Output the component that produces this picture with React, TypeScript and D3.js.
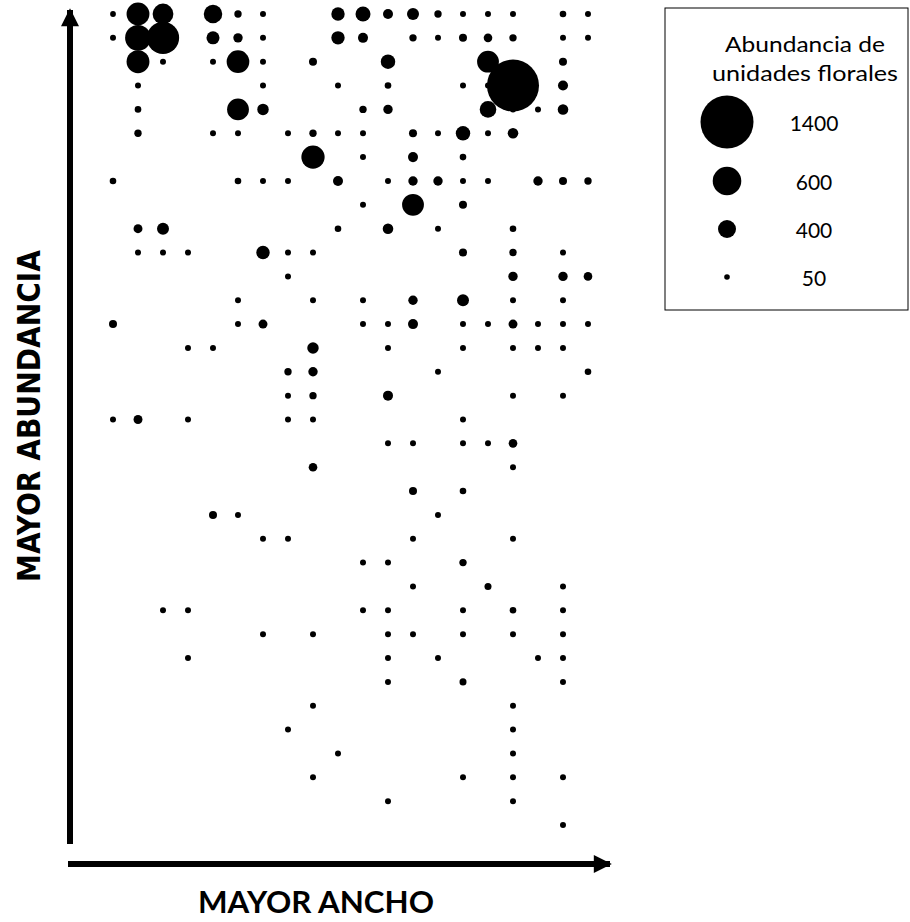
import React from "react";
import * as d3 from "d3";

// Grid data: [ancho column index, abundancia row index (0 = most abundant), floral units]
const points: [number, number, number][] = [
  // row 0
  [0, 0, 55], [1, 0, 492], [2, 0, 452], [4, 0, 410], [5, 0, 100], [6, 0, 61], [9, 0, 270], [10, 0, 315],
  [11, 0, 175], [12, 0, 230], [13, 0, 100], [14, 0, 61], [15, 0, 61], [16, 0, 61], [18, 0, 78], [19, 0, 61],
  // row 1
  [0, 1, 61], [1, 1, 548], [2, 1, 720], [4, 1, 260], [5, 1, 157], [6, 1, 61], [9, 1, 270], [10, 1, 175],
  [12, 1, 100], [13, 1, 61], [14, 1, 118], [15, 1, 135], [16, 1, 100], [18, 1, 61], [19, 1, 61],
  // row 2
  [1, 2, 492], [2, 2, 61], [4, 2, 61], [5, 2, 488], [6, 2, 61], [8, 2, 118], [11, 2, 300], [15, 2, 472], [18, 2, 118],
  // row 3
  [1, 3, 61], [6, 3, 61], [9, 3, 61], [11, 3, 78], [14, 3, 61], [15, 3, 61], [16, 3, 1367], [18, 3, 175],
  // row 4
  [1, 4, 78], [5, 4, 472], [6, 4, 215], [10, 4, 100], [11, 4, 157], [15, 4, 360], [16, 4, 61], [17, 4, 61], [18, 4, 190],
  // row 5
  [1, 5, 100], [4, 5, 61], [5, 5, 61], [7, 5, 61], [8, 5, 100], [9, 5, 61], [10, 5, 61], [12, 5, 118],
  [13, 5, 61], [14, 5, 300], [15, 5, 61], [16, 5, 190],
  // row 6
  [8, 6, 500], [10, 6, 61], [12, 6, 175], [14, 6, 78],
  // row 7
  [0, 7, 78], [5, 7, 78], [6, 7, 61], [7, 7, 61], [9, 7, 175], [11, 7, 61], [12, 7, 157], [13, 7, 157],
  [14, 7, 61], [15, 7, 61], [17, 7, 157], [18, 7, 118], [19, 7, 100],
  // row 8
  [10, 8, 61], [12, 8, 472], [14, 8, 118],
  // row 9
  [1, 9, 145], [2, 9, 230], [9, 9, 78], [11, 9, 190], [13, 9, 61], [16, 9, 78],
  // row 10
  [1, 10, 61], [2, 10, 61], [3, 10, 61], [6, 10, 270], [7, 10, 61], [8, 10, 61], [14, 10, 118], [16, 10, 100], [18, 10, 61],
  // row 11
  [7, 11, 61], [16, 11, 157], [18, 11, 157], [19, 11, 135],
  // row 12
  [5, 12, 61], [8, 12, 61], [10, 12, 61], [12, 12, 157], [14, 12, 230], [16, 12, 61], [18, 12, 61],
  // row 13
  [0, 13, 118], [5, 13, 61], [6, 13, 145], [10, 13, 61], [11, 13, 61], [12, 13, 175], [14, 13, 61],
  [15, 13, 61], [16, 13, 145], [17, 13, 61], [18, 13, 61], [19, 13, 61],
  // row 14
  [3, 14, 61], [4, 14, 61], [8, 14, 215], [11, 14, 61], [14, 14, 61], [16, 14, 61], [17, 14, 61], [18, 14, 61],
  // row 15
  [7, 15, 100], [8, 15, 157], [13, 15, 61], [19, 15, 78],
  // row 16
  [7, 16, 61], [8, 16, 100], [11, 16, 175], [16, 16, 61], [18, 16, 61],
  // row 17
  [0, 17, 61], [1, 17, 145], [3, 17, 61], [7, 17, 61], [8, 17, 61], [14, 17, 61],
  // row 18
  [11, 18, 61], [12, 18, 61], [14, 18, 61], [15, 18, 61], [16, 18, 135],
  // row 19
  [8, 19, 135], [16, 19, 61],
  // row 20
  [12, 20, 118], [14, 20, 78],
  // row 21
  [4, 21, 118], [5, 21, 61], [13, 21, 61],
  // row 22
  [6, 22, 61], [7, 22, 61], [12, 22, 61], [16, 22, 61],
  // row 23
  [10, 23, 61], [11, 23, 61], [14, 23, 100],
  // row 24
  [12, 24, 61], [15, 24, 90], [18, 24, 61],
  // row 25
  [2, 25, 61], [3, 25, 61], [10, 25, 61], [11, 25, 61], [14, 25, 61], [16, 25, 78], [18, 25, 61],
  // row 26
  [6, 26, 61], [8, 26, 61], [11, 26, 61], [12, 26, 61], [14, 26, 61], [16, 26, 61], [18, 26, 61],
  // row 27
  [3, 27, 61], [11, 27, 61], [13, 27, 61], [17, 27, 61], [18, 27, 61],
  // row 28
  [11, 28, 61], [14, 28, 90], [18, 28, 61],
  // row 29
  [8, 29, 61], [16, 29, 61],
  // row 30
  [7, 30, 61], [16, 30, 61],
  // row 31
  [9, 31, 61], [16, 31, 61],
  // row 32
  [8, 32, 61], [14, 32, 61], [16, 32, 61], [18, 32, 61],
  // row 33
  [11, 33, 61], [16, 33, 61],
  // row 34
  [18, 34, 61],
];

const legendValues = [1400, 600, 400, 50];
const legendTitle = ["Abundancia de", "unidades florales"];
const yLabel = "MAYOR ABUNDANCIA";
const xLabel = "MAYOR ANCHO";

const NCOLS = 20;
const NROWS = 35;

export default function App() {
  const W = 910;
  const H = 922;

  const x = d3.scaleLinear().domain([0, NCOLS - 1]).range([113, 588]);
  const y = d3.scaleLinear().domain([0, NROWS - 1]).range([14, 825]);
  const r = d3.scaleLinear().domain([50, 400, 600, 1400]).range([2.8, 9, 14.3, 26.5]).clamp(true);

  const sorted = [...points].sort((a, b) => b[2] - a[2]);

  const legendY = d3.scaleOrdinal<number, number>().domain(legendValues).range([122, 181, 229, 277]);

  const narrow =
    "'Liberation Sans Narrow', 'Arial Narrow', 'DejaVu Sans Condensed', 'Roboto Condensed', sans-serif";
  const calibriLike = "Lato, 'Open Sans', 'Noto Sans', sans-serif";

  return (
    <svg
      width={W}
      height={H}
      viewBox={`0 0 ${W} ${H}`}
      style={{ position: "absolute", left: 0, top: 0, background: "#fff" }}
    >
      <rect x={0} y={0} width={W} height={H} fill="#fff" />
      <defs>
        <marker id="ah" viewBox="0 0 10 10" refX="9" refY="5" markerWidth="3.2" markerHeight="3" orient="auto" markerUnits="strokeWidth">
          <path d="M0,0 L10,5 L0,10 z" fill="#000" />
        </marker>
      </defs>

      {/* Axes arrows */}
      <line x1={70} y1={844} x2={70} y2={10} stroke="#000" strokeWidth={6} markerEnd="url(#ah)" />
      <line x1={68} y1={864} x2={610} y2={864} stroke="#000" strokeWidth={6} markerEnd="url(#ah)" />

      {/* Axis labels */}
      <text
        transform={`translate(29, 416) rotate(-90)`}
        textAnchor="middle"
        dominantBaseline="central"
        fontFamily={narrow}
        fontWeight="bold"
        fontSize={32}
        textLength={332}
        lengthAdjust="spacingAndGlyphs"
        fill="#000"
      >
        {yLabel}
      </text>
      <text
        x={316}
        y={913}
        textAnchor="middle"
        fontFamily={calibriLike}
        fontWeight="bold"
        fontSize={31}
        textLength={236}
        lengthAdjust="spacingAndGlyphs"
        fill="#000"
      >
        {xLabel}
      </text>

      {/* Dots */}
      <g>
        {sorted.map((p, i) => (
          <circle key={i} cx={x(p[0])} cy={y(p[1])} r={r(p[2])} fill="#000" />
        ))}
      </g>

      {/* Legend */}
      <rect x={665} y={8} width={243} height={302} fill="#fff" stroke="#000" strokeWidth={1} />
      {legendTitle.map((t, i) => (
        <text
          key={t}
          x={805}
          y={52 + i * 29}
          textAnchor="middle"
          fontFamily={calibriLike}
          fontSize={22}
          textLength={i === 0 ? 160 : 186}
          lengthAdjust="spacingAndGlyphs"
          fill="#000"
        >
          {t}
        </text>
      ))}
      {legendValues.map((v) => (
        <g key={v}>
          <circle cx={727} cy={legendY(v)} r={r(v)} fill="#000" />
          <text
            x={814}
            y={legendY(v)}
            textAnchor="middle"
            dominantBaseline="central"
            fontFamily={calibriLike}
            fontSize={21}
            fill="#000"
          >
            {v}
          </text>
        </g>
      ))}
    </svg>
  );
}
